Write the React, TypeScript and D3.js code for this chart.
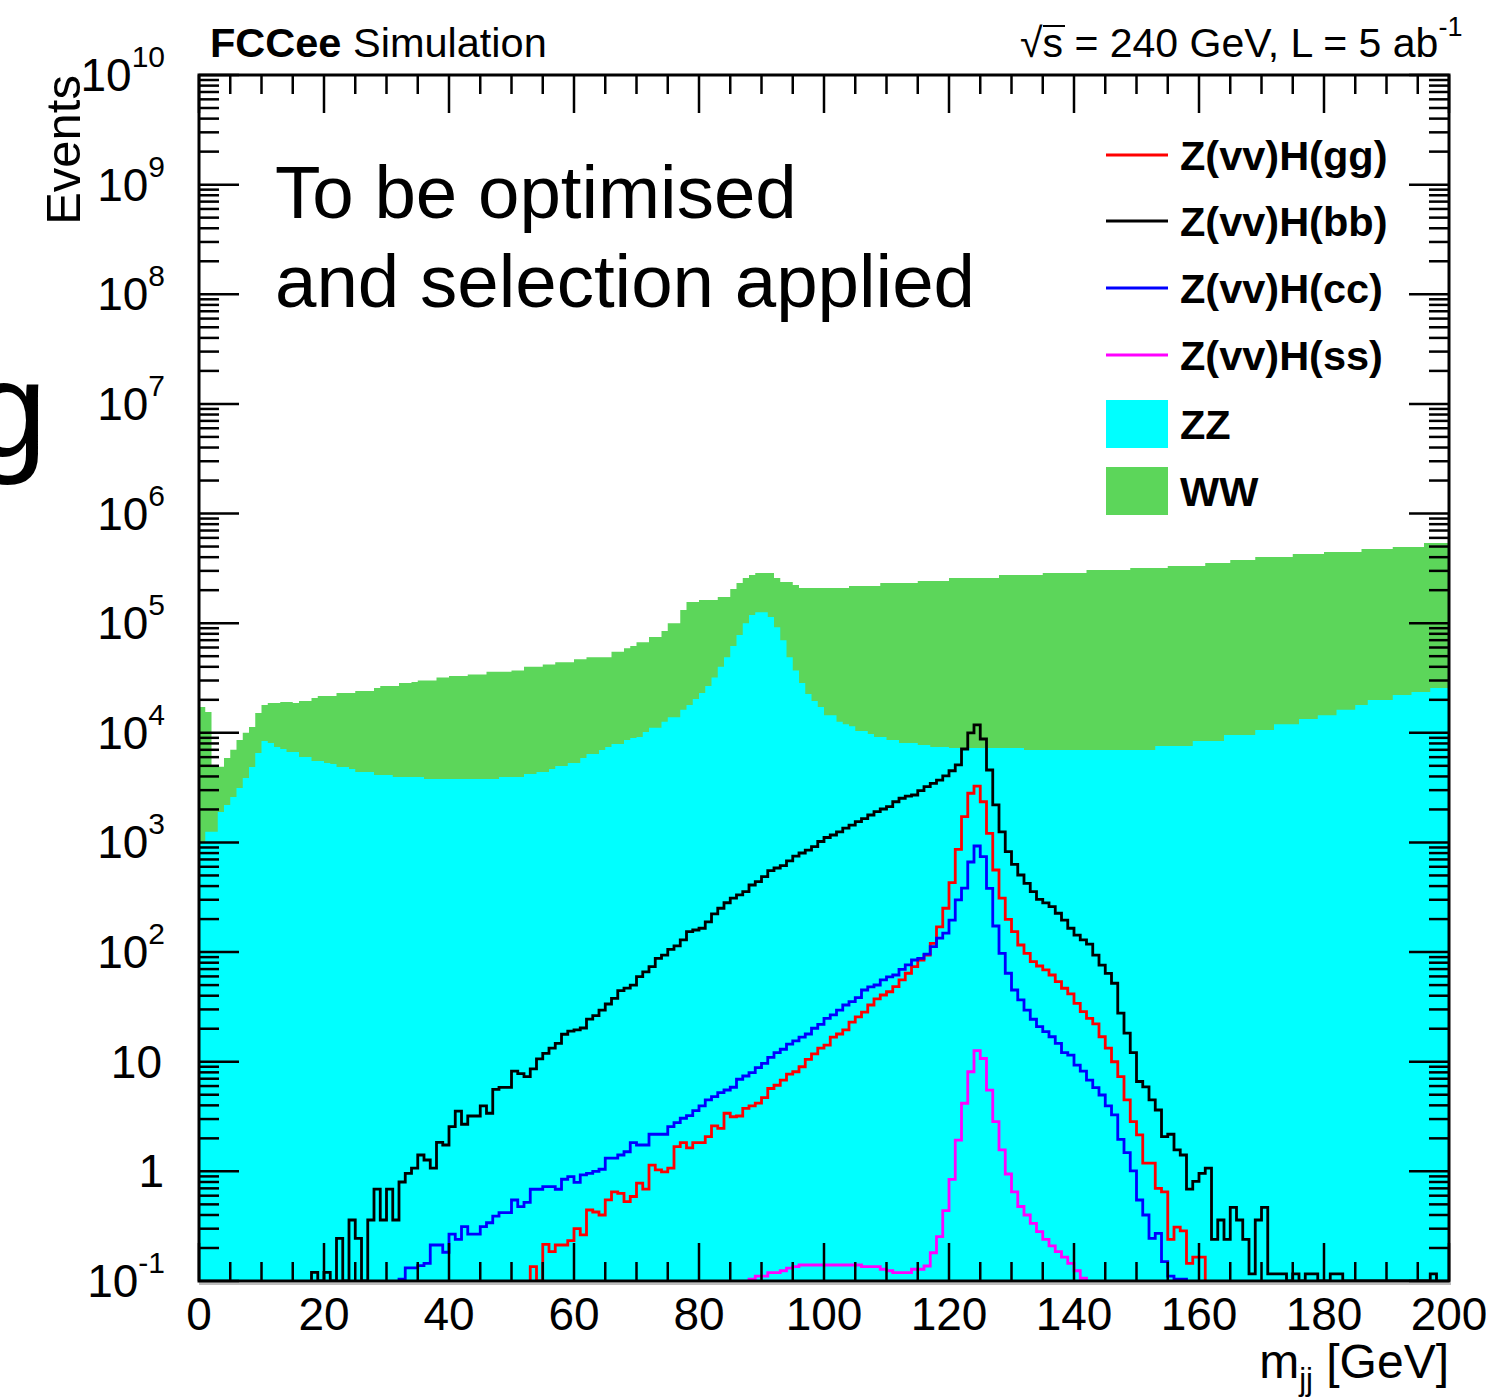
import React from "react";
import * as d3 from "d3";

const W = 1486;
const H = 1397;
const FRAME = { left: 199, right: 1449, top: 75, bottom: 1281 };
const X_DOMAIN: [number, number] = [0, 200];
const Y_DOMAIN: [number, number] = [0.1, 1e10];
const FONT = "'Liberation Sans', Arial, Helvetica, sans-serif";

// Dijet invariant mass, 1 GeV bins from 0 to 200 GeV.
const WW = [
  1.72e4, 1.55e4, 4.9e3, 4.9e3, 5.9e3, 7.0e3, 8.6e3, 1.0e4, 1.13e4, 1.52e4,
  1.79e4, 1.87e4, 1.87e4, 1.91e4, 1.91e4, 1.87e4, 1.95e4, 1.95e4, 2.08e4, 2.17e4,
  2.17e4, 2.17e4, 2.31e4, 2.31e4, 2.31e4, 2.41e4, 2.41e4, 2.41e4, 2.56e4, 2.67e4,
  2.67e4, 2.67e4, 2.85e4, 2.85e4, 2.9e4, 3.0e4, 3.0e4, 3.0e4, 3.2e4, 3.2e4,
  3.3e4, 3.3e4, 3.3e4, 3.4e4, 3.4e4, 3.4e4, 3.6e4, 3.6e4, 3.6e4, 3.6e4,
  3.7e4, 3.7e4, 4.0e4, 4.0e4, 4.0e4, 4.2e4, 4.2e4, 4.4e4, 4.4e4, 4.4e4,
  4.7e4, 4.7e4, 4.9e4, 4.9e4, 4.9e4, 4.9e4, 5.5e4, 5.5e4, 5.9e4, 6.2e4,
  6.7e4, 6.7e4, 7.5e4, 7.5e4, 8.5e4, 1.0e5, 1.0e5, 1.32e5, 1.56e5, 1.56e5,
  1.63e5, 1.63e5, 1.63e5, 1.73e5, 1.73e5, 2.05e5, 2.33e5, 2.58e5, 2.75e5, 2.87e5,
  2.87e5, 2.87e5, 2.58e5, 2.38e5, 2.38e5, 2.23e5, 2.09e5, 2.09e5, 2.09e5, 2.09e5,
  2.09e5, 2.09e5, 2.09e5, 2.09e5, 2.18e5, 2.18e5, 2.18e5, 2.18e5, 2.18e5, 2.33e5,
  2.33e5, 2.33e5, 2.33e5, 2.33e5, 2.33e5, 2.43e5, 2.43e5, 2.43e5, 2.43e5, 2.43e5,
  2.58e5, 2.58e5, 2.58e5, 2.58e5, 2.58e5, 2.58e5, 2.58e5, 2.58e5, 2.75e5, 2.75e5,
  2.75e5, 2.75e5, 2.75e5, 2.75e5, 2.75e5, 2.87e5, 2.87e5, 2.87e5, 2.87e5, 2.87e5,
  2.87e5, 2.87e5, 3.06e5, 3.06e5, 3.06e5, 3.06e5, 3.06e5, 3.06e5, 3.06e5, 3.19e5,
  3.19e5, 3.19e5, 3.19e5, 3.19e5, 3.19e5, 3.32e5, 3.32e5, 3.32e5, 3.32e5, 3.32e5,
  3.32e5, 3.54e5, 3.54e5, 3.54e5, 3.54e5, 3.77e5, 3.77e5, 3.77e5, 3.77e5, 4.02e5,
  4.02e5, 4.02e5, 4.02e5, 4.02e5, 4.02e5, 4.28e5, 4.28e5, 4.28e5, 4.28e5, 4.28e5,
  4.46e5, 4.46e5, 4.46e5, 4.46e5, 4.46e5, 4.46e5, 4.75e5, 4.75e5, 4.75e5, 4.75e5,
  4.75e5, 4.95e5, 4.95e5, 4.95e5, 4.95e5, 4.95e5, 5.39e5, 5.39e5, 5.39e5, 5.39e5,
];

const ZZ = [
  990, 1250, 1250, 1900, 2200, 2600, 3140, 3870, 4880, 6550,
  8420, 8080, 7430, 7120, 6690, 6690, 6020, 6020, 5540, 5540,
  5310, 5200, 4880, 4880, 4680, 4390, 4390, 4390, 4130, 4130,
  4130, 3960, 3960, 3960, 3960, 3960, 3790, 3790, 3790, 3790,
  3790, 3790, 3790, 3790, 3790, 3790, 3790, 3790, 3960, 3960,
  3960, 3960, 4210, 4210, 4390, 4390, 4680, 4980, 4980, 5310,
  5310, 5900, 6410, 6410, 6970, 7430, 7910, 7910, 8600, 8970,
  9160, 10200, 11100, 11100, 12600, 13900, 13900, 16200, 17900, 20300,
  23100, 26700, 32000, 40000, 49000, 62000, 78000, 100000, 119000, 126000,
  126000, 114000, 92000, 70000, 49000, 37000, 28500, 22600, 19500, 17200,
  14500, 14500, 12600, 12000, 11500, 10400, 10400, 9760, 9160, 9160,
  8600, 8600, 8080, 8080, 8080, 7740, 7740, 7430, 7430, 7430,
  7270, 7270, 7270, 7270, 7270, 7270, 7270, 7270, 7270, 7270,
  7270, 7270, 6970, 6970, 6970, 6970, 6970, 6970, 6970, 6970,
  6970, 6970, 6970, 6970, 6970, 6970, 6970, 6970, 6970, 6970,
  6970, 6970, 6970, 7590, 7590, 7590, 7590, 7590, 7590, 8420,
  8420, 8420, 8420, 8420, 9560, 9560, 9560, 9560, 9560, 10600,
  10600, 10600, 12000, 12000, 12000, 12000, 13400, 13400, 13400, 14500,
  14500, 14500, 16200, 16200, 16200, 17900, 17900, 19900, 19900, 19900,
  19900, 22100, 22100, 22100, 23600, 23600, 23600, 25600, 25600, 25600,
];

// Signal samples: first filled bin, then one value per bin from there on.
const HGG_FIRST = 53;
const HGG = [
  0.135, 0, 0.216, 0.185, 0.213, 0.213, 0.233, 0.3, 0.263, 0.444, 0.426, 0.4,
  0.55, 0.65, 0.63, 0.53, 0.59, 0.78, 0.69, 1.14, 1.03, 0.99, 1.07,
  1.68, 1.83, 1.64, 1.83, 1.83, 2.07, 2.6, 2.47, 3.39, 3.15, 3.2,
  3.76, 3.95, 4.2, 4.7, 5.7, 6.1, 6.8, 7.7, 8.1, 9.0, 10.5, 11.8, 13.3,
  14.2, 16.8, 17.9, 19.5, 23.0, 25.6, 28.4, 32.9, 37.4, 40.6, 43.5, 48.4, 55.7, 64.1, 73.6, 84.7, 94,
  120, 170, 251, 430, 866, 1720, 2810, 3270, 2350,
  1210, 561, 310, 199, 154, 116, 97.5, 81.8, 74.7, 68.7, 61.8, 53.7, 46.8, 41.5, 34, 28.6,
  24.9, 22.1, 16.9, 13.3, 10.0, 7.3, 4.48, 2.84, 2.15, 1.19, 1.19, 0.7, 0.65, 0.24, 0.31, 0.286, 0.145, 0.165, 0.165,
];

const HBB_FIRST = 18;
const HBB = [
  0.12, 0, 0.12, 0, 0.245, 0, 0.36, 0.245, 0, 0.36, 0.69, 0.36, 0.69, 0.36, 0.8, 0.96, 1.07, 1.41, 1.27, 1.07,
  1.84, 1.74, 2.56, 3.55, 2.69, 3.2, 3.2, 3.95, 3.39, 5.6, 5.84, 5.84, 8.2, 7.8, 7.3, 8.6, 10.6, 11.9, 13.3, 14.7,
  17.8, 19.0, 19.5, 20.3, 24.5, 26.3, 29.6,
  33.6, 37.9, 44.5, 47, 50, 59.7, 66, 73.6, 87.8, 94, 106, 114, 129, 154, 159, 165, 189, 223, 251, 282,
  310, 332, 356, 409, 439, 487, 553, 585, 614, 678, 752, 801, 853, 915, 1020, 1110, 1170, 1250, 1350,
  1440, 1550, 1650, 1780, 1910, 2020, 2120, 2350, 2530, 2650, 2710, 2970, 3230, 3460, 3710, 4040, 4510, 5090,
  7120, 9970, 11800, 8780,
  4580, 2200, 1250, 824, 632, 505, 424, 356, 303, 281, 260, 226, 196, 165, 143, 129, 118, 94, 76, 64, 52,
  27.7, 18.2, 12.1, 6.6, 5.9, 4.48, 3.63, 2.07, 2.18, 1.57, 1.41, 0.69, 0.81, 0.96, 1.07,
  0.24, 0.36, 0.24, 0.47, 0.36, 0.24, 0.116, 0.36, 0.47, 0.116, 0.116, 0.116,
  0, 0.116, 0, 0.116, 0.116, 0, 0, 0.116, 0.116,
  0, 0, 0, 0, 0, 0, 0, 0, 0, 0, 0, 0, 0, 0, 0.116,
];

const HCC_FIRST = 32;
const HCC = [
  0.104, 0.132, 0.132, 0.138, 0.145, 0.213, 0.213, 0.183, 0.268, 0.24,
  0.313, 0.268, 0.268, 0.313, 0.34, 0.39, 0.42, 0.42, 0.548, 0.476,
  0.522, 0.687, 0.687, 0.725, 0.725, 0.687, 0.847, 0.894, 0.795, 0.927,
  0.96, 1.0, 1.045,
  1.32, 1.32, 1.41, 1.51, 1.83, 1.74, 1.74, 2.18, 2.18, 2.18,
  2.56, 2.78, 3.05, 3.22, 3.58, 3.95, 4.48, 4.8, 5.22, 5.52,
  5.85, 6.92, 7.41, 7.94, 8.82, 9.67, 10.97, 12.1, 13.0, 14.5,
  15.5,
  16.8, 17.9, 20.2, 21.9, 24.9, 26.7, 29.6, 32.9, 35.3, 38.4,
  45.1, 48.1, 50.1, 55.7, 59.3, 61.8, 69.7, 76.3, 84.7, 87.8,
  96, 112, 134, 149, 196, 299, 384, 663, 928,
  742, 382, 173, 97.5, 64.1, 45.1, 36.6, 29.6, 24.4, 20.9,
  18.8, 16.9, 14.7, 12.1, 11.5, 9.3, 8.2, 6.8, 5.8, 4.97,
  3.95, 3.27, 1.96, 1.48, 1.01, 0.548, 0.4, 0.245, 0.272, 0.15,
  0.111, 0.104, 0.104,
];

const HSS_FIRST = 88;
const HSS = [
  0.104, 0.111, 0.111, 0.119, 0.119, 0.124, 0.131, 0.135,
  0.14, 0.14, 0.14, 0.14, 0.14, 0.14, 0.14, 0.14, 0.14, 0.14,
  0.135, 0.135, 0.135, 0.128, 0.124, 0.119, 0.119, 0.119, 0.128, 0.128, 0.137,
  0.181, 0.254, 0.438, 0.846, 1.93, 4.18, 8.1, 12.6, 10.7, 5.5, 2.84, 1.57, 0.946, 0.65,
  0.478, 0.4, 0.336, 0.282, 0.24, 0.209, 0.185, 0.165, 0.145, 0.124, 0.106,
];

const X_MAJOR = [0, 20, 40, 60, 80, 100, 120, 140, 160, 180, 200];
const Y_EXPONENTS = [-1, 0, 1, 2, 3, 4, 5, 6, 7, 8, 9, 10];

const C_GG = "#ff0000";
const C_BB = "#000000";
const C_CC = "#0000ff";
const C_SS = "#ff00ff";
const C_ZZ = "#00ffff";
const C_WW = "#5cd65a";

type Pt = [number, number];

// Histogram outline: rises from the axis at the first edge, steps across
// every bin and falls back to the axis after the last one.
function steps(first: number, vals: number[], closed: boolean): Pt[] {
  const pts: Pt[] = [];
  if (closed) pts.push([first, 0]);
  vals.forEach((v, i) => {
    pts.push([first + i, v]);
    pts.push([first + i + 1, v]);
  });
  if (closed) pts.push([first + vals.length, 0]);
  return pts;
}

export default function App() {
  const x = d3.scaleLinear().domain(X_DOMAIN).range([FRAME.left, FRAME.right]);
  const y = d3.scaleLog().domain(Y_DOMAIN).range([FRAME.bottom, FRAME.top]);
  const yc = (v: number) => y(Math.max(v, Y_DOMAIN[0]));

  const line = d3
    .line<Pt>()
    .x((d) => x(d[0]))
    .y((d) => yc(d[1]));
  const area = d3
    .area<Pt>()
    .x((d) => x(d[0]))
    .y0(y(Y_DOMAIN[0]))
    .y1((d) => yc(d[1]));

  const xMinor = d3.range(X_DOMAIN[0], X_DOMAIN[1] + 1, 5).filter((v) => v % 20 !== 0);
  const yMinor: number[] = [];
  for (let k = -1; k < 10; k++) for (let m = 2; m <= 9; m++) yMinor.push(m * Math.pow(10, k));

  const { left: L, right: R, top: T, bottom: B } = FRAME;
  const tickW = 2.5;

  const signals = [
    { first: HGG_FIRST, vals: HGG, color: C_GG },
    { first: HBB_FIRST, vals: HBB, color: C_BB },
    { first: HCC_FIRST, vals: HCC, color: C_CC },
    { first: HSS_FIRST, vals: HSS, color: C_SS },
  ];

  const legendLines = [
    { label: "Z(vv)H(gg)", color: C_GG, cy: 155 },
    { label: "Z(vv)H(bb)", color: C_BB, cy: 221 },
    { label: "Z(vv)H(cc)", color: C_CC, cy: 288 },
    { label: "Z(vv)H(ss)", color: C_SS, cy: 355 },
  ];
  const legendBoxes = [
    { label: "ZZ", color: C_ZZ, cy: 424 },
    { label: "WW", color: C_WW, cy: 491 },
  ];

  return (
    <svg
      width={W}
      height={H}
      viewBox={`0 0 ${W} ${H}`}
      style={{ position: "absolute", left: 0, top: 0, display: "block", background: "#fff" }}
      fontFamily={FONT}
    >
      <rect x={0} y={0} width={W} height={H} fill="#fff" />
      <defs>
        <clipPath id="plotArea">
          <rect x={L} y={T} width={R - L} height={B - T} />
        </clipPath>
      </defs>

      <g clipPath="url(#plotArea)">
        <path d={area(steps(0, WW, false)) || ""} fill={C_WW} />
        <path d={area(steps(0, ZZ, false)) || ""} fill={C_ZZ} />
        {signals.map((s, i) => (
          <path
            key={i}
            d={line(steps(s.first, s.vals, true)) || ""}
            fill="none"
            stroke={s.color}
            strokeWidth={2.8}
          />
        ))}
      </g>

      {/* frame and ticks */}
      <g stroke="#000" strokeWidth={tickW}>
        {X_MAJOR.map((v) => (
          <g key={`xM${v}`}>
            <line x1={x(v)} x2={x(v)} y1={B} y2={B - 38} />
            <line x1={x(v)} x2={x(v)} y1={T} y2={T + 38} />
          </g>
        ))}
        {xMinor.map((v) => (
          <g key={`xm${v}`}>
            <line x1={x(v)} x2={x(v)} y1={B} y2={B - 19} />
            <line x1={x(v)} x2={x(v)} y1={T} y2={T + 19} />
          </g>
        ))}
        {Y_EXPONENTS.map((k) => (
          <g key={`yM${k}`}>
            <line x1={L} x2={L + 40} y1={y(Math.pow(10, k))} y2={y(Math.pow(10, k))} />
            <line x1={R} x2={R - 40} y1={y(Math.pow(10, k))} y2={y(Math.pow(10, k))} />
          </g>
        ))}
        {yMinor.map((v, i) => (
          <g key={`ym${i}`}>
            <line x1={L} x2={L + 20} y1={y(v)} y2={y(v)} />
            <line x1={R} x2={R - 20} y1={y(v)} y2={y(v)} />
          </g>
        ))}
      </g>
      <rect x={L} y={T} width={R - L} height={B - T} fill="none" stroke="#000" strokeWidth={3} />
      <line x1={L} x2={R + 2} y1={B + 3} y2={B + 3} stroke="#bdbdbd" strokeWidth={2} />

      {/* x tick labels */}
      {X_MAJOR.map((v) => (
        <text key={`xl${v}`} x={x(v)} y={1330} fontSize={46} textAnchor="middle" fill="#000">
          {v}
        </text>
      ))}

      {/* y tick labels */}
      {Y_EXPONENTS.map((k) => {
        const ty = y(Math.pow(10, k));
        if (k === 0)
          return (
            <text key={`yl${k}`} x={164} y={ty + 16} fontSize={46} textAnchor="end">
              1
            </text>
          );
        if (k === 1)
          return (
            <text key={`yl${k}`} x={162} y={ty + 16} fontSize={46} textAnchor="end">
              10
            </text>
          );
        return (
          <text key={`yl${k}`} x={165} y={ty + 16} fontSize={46} textAnchor="end">
            <tspan>10</tspan>
            <tspan dy={-24} fontSize={30}>
              {k < 0 ? `-${-k}` : `${k}`}
            </tspan>
          </text>
        );
      })}

      {/* axis titles */}
      <text x={80} y={T} fontSize={49} textAnchor="end" transform={`rotate(-90, 80, ${T})`}>
        Events
      </text>
      <text x={R} y={1378} fontSize={48} textAnchor="end">
        <tspan>m</tspan>
        <tspan fontSize={31} dy={12}>
          jj
        </tspan>
        <tspan dy={-12}> [GeV]</tspan>
      </text>

      {/* header */}
      <text x={210} y={57} fontSize={41.5}>
        <tspan fontWeight="bold">FCCee</tspan>
        <tspan> Simulation</tspan>
      </text>
      <text x={1020} y={57} fontSize={41}>
        <tspan>√s = 240 GeV, L = 5 ab</tspan>
        <tspan dy={-21} fontSize={27}>
          -1
        </tspan>
      </text>
      <line x1={1043} x2={1065} y1={26} y2={26} stroke="#000" strokeWidth={2} />

      {/* legend */}
      {legendLines.map((e) => (
        <g key={e.label}>
          <line x1={1106} x2={1168} y1={e.cy} y2={e.cy} stroke={e.color} strokeWidth={3} />
          <text x={1180} y={e.cy + 15} fontSize={41.5} fontWeight="bold">
            {e.label}
          </text>
        </g>
      ))}
      {legendBoxes.map((e) => (
        <g key={e.label}>
          <rect x={1106} y={e.cy - 24} width={62} height={48} fill={e.color} />
          <text x={1180} y={e.cy + 15} fontSize={41.5} fontWeight="bold">
            {e.label}
          </text>
        </g>
      ))}

      {/* annotation */}
      <text x={275} y={218} fontSize={74.5}>
        To be optimised
      </text>
      <text x={275} y={307} fontSize={74.5}>
        and selection applied
      </text>
      <text x={-29} y={456} fontSize={137}>
        g
      </text>
    </svg>
  );
}
